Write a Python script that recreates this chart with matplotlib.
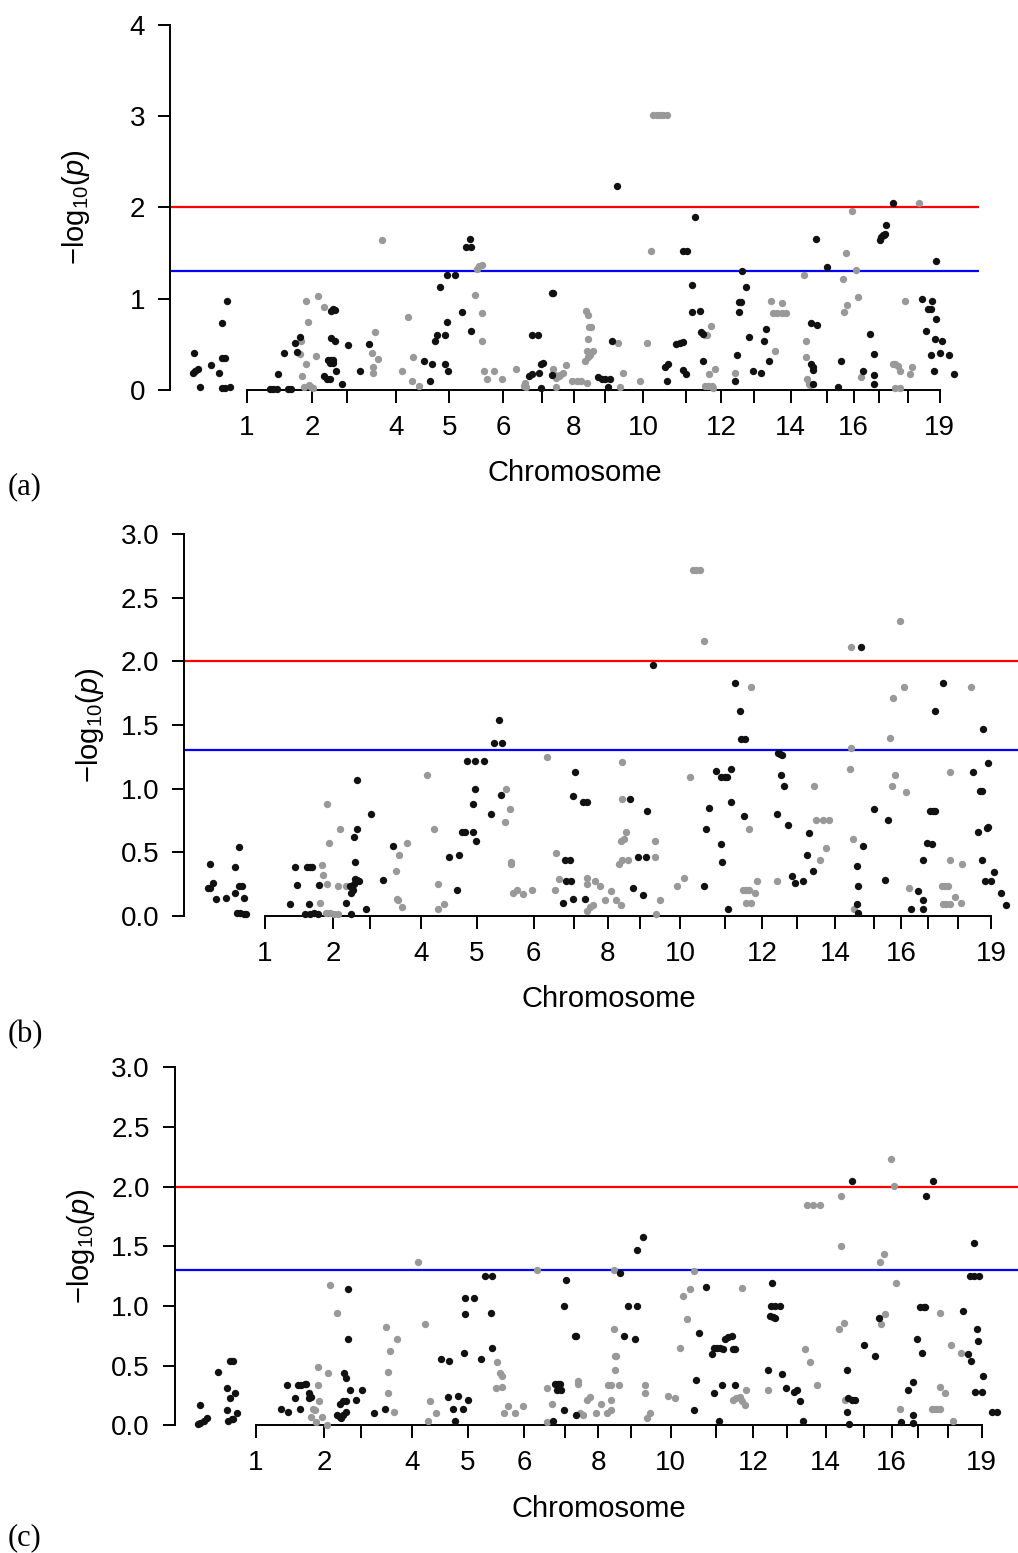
import matplotlib.pyplot as plt

plt.rcParams['font.family'] = 'Liberation Sans'
plt.rcParams['mathtext.fontset'] = 'custom'
plt.rcParams['mathtext.rm'] = 'Liberation Sans'
plt.rcParams['mathtext.it'] = 'Liberation Sans:italic'

# cumulative genome position of each chromosome tick (arbitrary units)
chrom_ticks = [0, 94, 145, 215, 292, 370, 426, 472, 517, 572, 634, 685, 732,
               785, 838, 876, 913, 954, 1000]
chrom_labels = ['1', '2', '', '4', '5', '6', '', '8', '', '10', '', '12', '',
                '14', '', '16', '', '', '19']

# significance thresholds: -log10(0.05) and 2
threshold_low = 1.3
threshold_high = 2.0

# ---- panel (a) ----
a_black_pos = ([-77, -78, -75, -71, -67, -52, -40, -36, -36, -31, -28, -36, -31, -25]
               + [34, 38, 43, 45, 54, 59, 64, 69, 73, 76]
               + [111, 115, 120, 122, 125, 127, 122, 127, 117, 122, 125, 120, 124, 129, 138, 146, 163, 177]
               + [255, 265, 267, 272, 274, 279, 286, 286, 289, 289, 301, 291, 310, 317, 322, 324, 324]
               + [407, 412, 412, 420, 422, 424, 427, 424, 441, 442]
               + [441, 507, 512, 517, 524, 522, 527, 534]
               + [604, 608, 606, 620, 625, 629, 629, 634, 629, 635, 642, 647, 642, 654, 656, 659, 659]
               + [705, 708, 711, 711, 713, 715, 720, 725, 730, 742, 747, 749, 754]
               + [814, 823, 814, 817, 818, 817, 821, 838, 853, 858, 889, 899, 906, 906, 906]
               + [914, 916, 918, 920, 921, 923, 933]
               + [975, 981, 984, 987, 989, 987, 992, 993, 1004, 995, 995, 1001, 1013, 1021])
a_black_val = ([0.41, 0.19, 0.21, 0.23, 0.03, 0.27, 0.19, 0.73, 0.35, 0.35, 0.98, 0.02, 0.02, 0.03]
               + [0.01, 0.01, 0.01, 0.17, 0.41, 0.01, 0.01, 0.52, 0.42, 0.58]
               + [0.15, 0.12, 0.12, 0.86, 0.89, 0.88, 0.57, 0.54, 0.33, 0.33, 0.33, 0.29, 0.29, 0.21, 0.07, 0.49, 0.21, 0.50]
               + [0.32, 0.10, 0.28, 0.54, 0.60, 1.13, 0.60, 0.28, 0.75, 1.26, 1.26, 0.21, 0.85, 1.57, 1.65, 1.57, 0.65]
               + [0.15, 0.18, 0.60, 0.60, 0.19, 0.28, 0.30, 0.02, 1.06, 1.06]
               + [0.16, 0.14, 0.12, 0.12, 0.12, 0.03, 0.54, 2.24]
               + [0.25, 0.28, 0.10, 0.50, 0.52, 0.53, 0.22, 0.18, 1.52, 1.52, 1.15, 1.90, 0.85, 0.87, 0.63, 0.61, 0.32]
               + [0.10, 0.38, 0.85, 0.96, 0.96, 1.30, 1.13, 0.58, 0.21, 0.19, 0.54, 0.67, 0.32]
               + [0.73, 0.71, 0.28, 0.25, 0.22, 0.07, 1.65, 1.35, 0.03, 0.32, 0.21, 0.61, 0.39, 0.16, 0.07]
               + [1.64, 1.68, 1.70, 1.70, 1.71, 1.81, 2.05]
               + [1.00, 0.65, 0.89, 0.89, 0.98, 0.38, 0.21, 0.56, 0.54, 0.78, 1.41, 0.41, 0.38, 0.18])
a_gray_pos = ([78, 76, 80, 85, 86, 88, 83, 89, 92, 96, 100, 102, 112]
              + [180, 182, 182, 185, 190, 195, 224, 233, 238, 240, 248]
              + [330, 332, 335, 339, 340, 340, 343, 347, 357, 369, 388, 400, 402, 403]
              + [442, 445, 447, 450, 452, 456, 461, 446, 469, 476, 483, 491]
              + [488, 493, 495, 491, 500, 493, 494, 497, 490, 493]
              + [536, 539, 543, 568, 577, 584, 587, 592, 596, 601, 606]
              + [661, 664, 670, 661, 666, 671, 673, 667, 676, 705]
              + [756, 763, 760, 766, 772, 779, 773, 805, 807, 807, 809, 812, 813]
              + [860, 865, 862, 867, 874, 880, 883, 886]
              + [933, 936, 940, 943, 935, 943, 950, 957, 960, 971])
a_gray_val = ([0.54, 0.39, 0.15, 0.28, 0.98, 0.75, 0.03, 0.05, 0.03, 0.02, 0.37, 1.03, 0.91]
              + [0.41, 0.25, 0.19, 0.63, 0.34, 1.64, 0.21, 0.80, 0.10, 0.36, 0.04]
              + [1.04, 1.33, 1.36, 1.37, 0.84, 0.54, 0.21, 0.12, 0.21, 0.12, 0.23, 0.04, 0.08, 0.03]
              + [0.23, 0.16, 0.13, 0.15, 0.16, 0.19, 0.27, 0.03, 0.10, 0.10, 0.10, 0.08]
              + [0.32, 0.36, 0.38, 0.43, 0.43, 0.56, 0.69, 0.69, 0.87, 0.82]
              + [0.52, 0.03, 0.19, 0.10, 0.52, 1.52, 3.01, 3.01, 3.01, 3.01, 3.01]
              + [0.60, 0.60, 0.70, 0.04, 0.04, 0.04, 0.02, 0.18, 0.23, 0.19]
              + [0.98, 0.43, 0.84, 0.84, 0.84, 0.84, 0.95, 1.26, 0.54, 0.36, 0.12, 0.07, 0.05]
              + [1.22, 1.50, 0.85, 0.93, 1.96, 1.32, 1.02, 0.14]
              + [0.28, 0.28, 0.26, 0.21, 0.02, 0.02, 0.98, 0.18, 0.25, 2.05])

# ---- panel (b) ----
b_black_pos = ([-76, -79, -75, -72, -67, -53, -41, -41, -36, -36, -31, -29, -38, -34, -29, -26]
               + [34, 42, 44, 55, 62, 68, 73, 61, 58, 62, 65, 75]
               + [112, 117, 119, 121, 122, 124, 127, 129, 119, 122, 124, 127, 127, 139, 146, 163]
               + [177, 254, 267, 264, 271, 276, 278, 289, 301, 286, 286, 289, 291, 311, 322, 316, 327, 325]
               + [410, 413, 420, 415, 422, 424, 424, 427, 438, 443, 441]
               + [502, 507, 514, 524, 521, 526, 534]
               + [604, 607, 611, 621, 628, 633, 636, 642, 642, 628, 630, 638, 647, 654, 656, 661, 659]
               + [705, 706, 709, 712, 710, 715, 720, 725, 730, 741, 747, 749, 754]
               + [821, 815, 817, 815, 817, 824, 839, 854, 858]
               + [889, 899, 906, 906, 906, 911, 919, 915, 920, 922, 923, 933]
               + [975, 982, 984, 987, 987, 989, 994, 996, 996, 991, 1000, 1004, 1014, 1020])
b_black_val = ([0.41, 0.22, 0.22, 0.26, 0.13, 0.14, 0.38, 0.18, 0.54, 0.23, 0.23, 0.14, 0.02, 0.02, 0.01, 0.01]
               + [0.09, 0.38, 0.24, 0.01, 0.01, 0.02, 0.01, 0.09, 0.38, 0.38, 0.38, 0.24]
               + [0.10, 0.23, 0.18, 0.20, 0.25, 0.29, 0.28, 0.27, 0.01, 0.62, 0.42, 0.68, 1.07, 0.05, 0.80, 0.28]
               + [0.55, 0.46, 0.48, 0.20, 0.66, 0.66, 1.22, 1.22, 1.22, 0.66, 0.88, 1.00, 0.59, 0.80, 1.54, 1.36, 1.36, 0.95]
               + [0.10, 0.44, 0.44, 0.27, 0.27, 0.13, 0.94, 1.13, 0.89, 0.89, 0.13]
               + [0.92, 0.22, 0.46, 0.46, 0.16, 0.82, 1.97]
               + [0.23, 0.68, 0.85, 1.14, 1.09, 1.09, 1.09, 1.15, 0.89, 0.56, 0.42, 0.05, 1.83, 1.61, 1.39, 1.39, 0.78]
               + [0.80, 1.28, 1.27, 1.26, 1.11, 1.02, 0.71, 0.31, 0.26, 0.27, 0.48, 0.65, 0.35]
               + [2.11, 0.39, 0.23, 0.09, 0.02, 0.55, 0.84, 0.28, 0.75]
               + [0.05, 0.19, 0.44, 0.12, 0.05, 0.57, 0.56, 0.82, 0.82, 0.82, 1.61, 1.83]
               + [1.13, 0.66, 0.98, 0.98, 0.44, 1.47, 0.69, 0.70, 1.20, 0.27, 0.27, 0.34, 0.18, 0.08])
b_gray_pos = ([78, 80, 76, 85, 85, 88, 84, 90, 95, 101, 101, 103, 112]
              + [180, 182, 183, 185, 189, 195, 223, 233, 238, 239, 247]
              + [330, 332, 337, 339, 339, 342, 347, 356, 368, 388, 401, 399, 405]
              + [444, 444, 443, 447, 452, 455, 461, 468, 476, 483, 490, 487, 491, 500, 490, 494, 497, 492, 492]
              + [537, 537, 539, 544, 568, 577, 585, 589, 593, 599, 604]
              + [667, 669, 658, 663, 667, 662, 669, 675, 677, 705]
              + [756, 759, 769, 777, 764, 773]
              + [805, 807, 807, 809, 811, 860, 863, 867, 865, 874, 880, 882, 887]
              + [932, 936, 941, 934, 938, 943, 943, 943, 950, 958, 960, 972])
b_gray_val = ([0.40, 0.32, 0.10, 0.88, 0.25, 0.57, 0.02, 0.02, 0.01, 0.01, 0.23, 0.68, 0.23]
              + [0.35, 0.13, 0.12, 0.48, 0.07, 0.57, 1.11, 0.68, 0.05, 0.25, 0.09]
              + [0.74, 1.00, 0.84, 0.42, 0.41, 0.18, 0.20, 0.17, 0.20, 1.25, 0.49, 0.20, 0.29]
              + [0.30, 0.25, 0.04, 0.07, 0.08, 0.27, 0.23, 0.12, 0.19, 0.12, 0.08, 0.41, 0.44, 0.44, 0.59, 0.60, 0.66, 0.92, 1.21]
              + [0.59, 0.46, 0.01, 0.12, 0.23, 0.30, 1.09, 2.72, 2.72, 2.72, 2.16]
              + [0.68, 1.80, 0.20, 0.20, 0.20, 0.10, 0.10, 0.18, 0.27, 0.27]
              + [1.02, 0.75, 0.75, 0.75, 0.44, 0.53]
              + [1.15, 1.32, 2.11, 0.60, 0.05, 1.40, 1.02, 1.11, 1.71, 2.32, 1.80, 0.97, 0.22]
              + [0.23, 0.23, 0.23, 0.09, 0.09, 0.09, 1.13, 0.44, 0.15, 0.10, 0.41, 1.80])

# ---- panel (c) ----
c_black_pos = ([-76, -80, -76, -71, -67, -52, -40, -40, -35, -28, -25, -35, -31, -38, -33, -31]
               + [35, 43, 45, 54, 61, 59, 63, 68, 70, 74, 76, 73]
               + [112, 116, 121, 125, 118, 116, 121, 125, 122, 125, 127, 127, 130, 139, 147, 163, 178]
               + [255, 267, 265, 272, 286, 275, 279, 287, 289, 289, 301, 292, 311, 316, 326, 324, 326]
               + [410, 412, 417, 415, 419, 421, 425, 425, 427, 440, 442, 441]
               + [502, 507, 513, 525, 522, 526, 534]
               + [604, 606, 611, 621, 628, 631, 635, 640, 644, 631, 638, 643, 647, 651, 656, 658, 660, 660]
               + [706, 711, 710, 716, 722, 708, 712, 716, 725, 730, 742, 746, 750, 754]
               + [814, 814, 816, 821, 825, 817, 821, 838, 853, 858]
               + [889, 899, 906, 906, 906, 911, 918, 915, 920, 922, 923, 933]
               + [974, 981, 986, 984, 989, 997, 989, 993, 995, 991, 1001, 1002, 1014, 1021])
c_black_val = ([0.17, 0.01, 0.02, 0.04, 0.06, 0.45, 0.31, 0.13, 0.23, 0.27, 0.10, 0.54, 0.54, 0.04, 0.05, 0.05]
               + [0.14, 0.34, 0.11, 0.23, 0.14, 0.34, 0.34, 0.35, 0.35, 0.27, 0.24, 0.23]
               + [0.09, 0.07, 0.09, 0.11, 0.06, 0.18, 0.20, 0.20, 0.44, 0.40, 1.14, 0.72, 0.30, 0.21, 0.30, 0.10, 0.14]
               + [0.56, 0.54, 0.24, 0.14, 0.14, 0.04, 0.25, 0.61, 0.93, 1.07, 1.07, 0.21, 0.56, 1.25, 1.25, 0.94, 0.65]
               + [0.04, 0.35, 0.35, 0.30, 0.35, 0.30, 0.13, 1.00, 1.22, 0.75, 0.75, 0.09]
               + [1.28, 0.75, 1.00, 1.00, 0.72, 1.47, 1.58]
               + [0.13, 0.38, 0.77, 1.16, 0.60, 0.65, 0.65, 0.65, 0.64, 0.27, 0.04, 0.34, 0.72, 0.74, 0.75, 0.64, 0.64, 0.34]
               + [0.46, 1.19, 1.00, 1.00, 1.00, 0.92, 0.91, 0.90, 0.43, 0.31, 0.28, 0.30, 0.20, 0.04]
               + [0.11, 0.46, 0.23, 0.21, 0.21, 0.01, 2.05, 0.67, 0.58, 0.90]
               + [0.03, 0.30, 0.36, 0.09, 0.02, 0.72, 0.61, 0.99, 0.99, 0.99, 1.92, 2.05]
               + [0.96, 0.60, 0.54, 1.25, 1.25, 1.25, 1.53, 0.81, 0.71, 0.28, 0.28, 0.41, 0.11, 0.11])
c_gray_pos = ([79, 82, 76, 83, 86, 86, 88, 92, 98, 100, 103, 112]
              + [180, 183, 183, 185, 190, 195, 224, 234, 238, 240, 248]
              + [332, 337, 340, 331, 340, 342, 348, 357, 369, 388, 402, 408, 401]
              + [444, 444, 447, 451, 456, 460, 469, 476, 484, 490, 490, 486, 490, 500, 495, 495, 497, 493, 493]
              + [536, 536, 539, 543, 568, 578, 585, 589, 594, 599, 604]
              + [658, 662, 667, 670, 674, 670, 676, 706]
              + [757, 759, 768, 778, 764, 773]
              + [804, 810, 807, 807, 812, 860, 865, 862, 867, 875, 880, 882, 887]
              + [931, 935, 939, 943, 943, 943, 950, 958, 960, 971])
c_gray_val = ([0.14, 0.13, 0.07, 0.03, 0.49, 0.34, 0.20, 0.07, 0.00, 0.44, 1.18, 0.94]
              + [0.82, 0.45, 0.27, 0.62, 0.11, 0.72, 1.37, 0.85, 0.04, 0.20, 0.10]
              + [0.53, 0.44, 0.41, 0.31, 0.32, 0.10, 0.16, 0.10, 0.16, 1.30, 0.31, 0.18, 0.03]
              + [0.37, 0.35, 0.10, 0.09, 0.21, 0.24, 0.10, 0.18, 0.10, 0.13, 0.21, 0.34, 0.34, 0.34, 0.46, 0.58, 0.58, 0.81, 1.30]
              + [0.34, 0.27, 0.06, 0.10, 0.25, 0.23, 0.65, 1.08, 0.89, 1.14, 1.29]
              + [0.21, 0.23, 0.24, 0.20, 0.17, 1.15, 0.30, 0.30]
              + [0.64, 1.85, 1.85, 1.85, 0.53, 0.34]
              + [0.81, 0.86, 1.92, 1.50, 0.21, 1.37, 1.44, 0.85, 0.93, 2.23, 2.01, 1.19, 0.14]
              + [0.14, 0.14, 0.14, 0.14, 0.94, 0.32, 0.27, 0.67, 0.04, 0.61])

panels = [
    {'rect': [0.1670, 0.7489, 0.7947, 0.2350], 'ymax': 4,
     'yticks': [0, 1, 2, 3, 4], 'fmt': '{:.0f}', 'tag': '(a)', 'tag_y': 487,
     'black': (a_black_pos, a_black_val), 'gray': (a_gray_pos, a_gray_val)},
    {'rect': [0.1810, 0.4104, 0.8334, 0.2456], 'ymax': 3,
     'yticks': [0, 0.5, 1, 1.5, 2, 2.5, 3], 'fmt': '{:.1f}', 'tag': '(b)', 'tag_y': 1035,
     'black': (b_black_pos, b_black_val), 'gray': (b_gray_pos, b_gray_val)},
    {'rect': [0.1719, 0.0822, 0.8330, 0.2305], 'ymax': 3,
     'yticks': [0, 0.5, 1, 1.5, 2, 2.5, 3], 'fmt': '{:.1f}', 'tag': '(c)', 'tag_y': 1538,
     'black': (c_black_pos, c_black_val), 'gray': (c_gray_pos, c_gray_val)},
]

fig = plt.figure(figsize=(10.18, 15.53), dpi=100)

for p in panels:
    ax = fig.add_axes(p['rect'])
    ax.set_xlim(-111, 1057)
    ax.set_ylim(0, p['ymax'])

    ax.axhline(threshold_high, color='#ff0000', lw=1.6, zorder=1)
    ax.axhline(threshold_low, color='#0000ff', lw=1.6, zorder=1)

    ax.scatter(*p['gray'], s=28, color='#999999', linewidths=0, clip_on=False, zorder=3)
    ax.scatter(*p['black'], s=28, color='#111111', linewidths=0, clip_on=False, zorder=3)

    for side in ('top', 'right'):
        ax.spines[side].set_visible(False)
    ax.spines['left'].set_bounds(0, p['ymax'])
    ax.spines['bottom'].set_bounds(chrom_ticks[0], chrom_ticks[-1])
    for side in ('left', 'bottom'):
        ax.spines[side].set_linewidth(1.4)

    ax.set_xticks(chrom_ticks)
    ax.set_xticklabels(chrom_labels)
    ax.set_yticks(p['yticks'])
    ax.set_yticklabels([p['fmt'].format(v) for v in p['yticks']])
    ax.tick_params(axis='both', length=9, width=1.4, labelsize=20)
    ax.tick_params(axis='x', pad=9)
    ax.tick_params(axis='y', pad=9)

    ax.annotate('Chromosome', xy=(0.5, 0), xycoords='axes fraction',
                xytext=(0, -60), textcoords='offset points',
                ha='center', va='center', fontsize=21)
    ax.annotate(r'$-\mathrm{log}_{10}(\mathit{p})$', xy=(0, 0.5), xycoords='axes fraction',
                xytext=(-68, 0), textcoords='offset points', rotation=90,
                ha='center', va='center', fontsize=21)

    fig.text(8 / 1018, 1 - p['tag_y'] / 1553, p['tag'], family='Liberation Serif',
             fontsize=22, ha='left', va='center')

fig.savefig('out.png', dpi=100)
